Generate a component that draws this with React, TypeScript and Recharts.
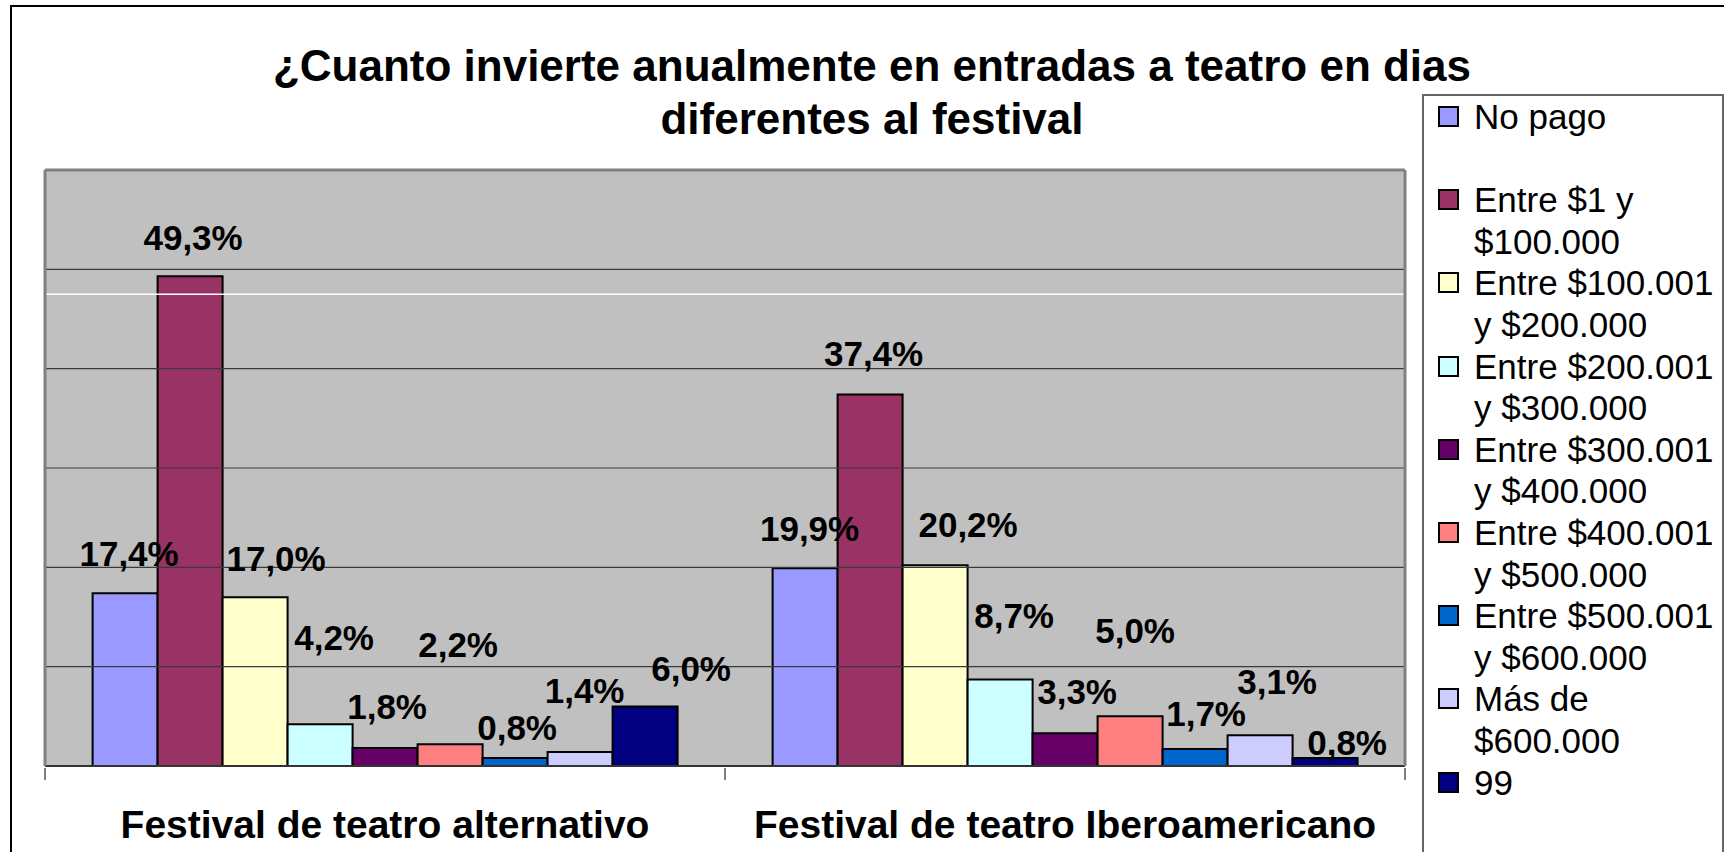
import React from "react";
import {
  BarChart,
  Bar,
  XAxis,
  YAxis,
  CartesianGrid,
  LabelList,
  ReferenceLine,
} from "recharts";

const festivals = [
  "Festival de teatro alternativo",
  "Festival de teatro Iberoamericano",
];
const seriesNames = [
  "No pago",
  "Entre $1 y $100.000",
  "Entre $100.001 y $200.000",
  "Entre $200.001 y $300.000",
  "Entre $300.001 y $400.000",
  "Entre $400.001 y $500.000",
  "Entre $500.001 y $600.000",
  "Más de $600.000",
  "99",
];
const seriesColors = [
  "#9999FF",
  "#993366",
  "#FFFFCC",
  "#CCFFFF",
  "#660066",
  "#FF8080",
  "#0066CC",
  "#CCCCFF",
  "#000080",
];
const alternativo = [17.4, 49.3, 17.0, 4.2, 1.8, 2.2, 0.8, 1.4, 6.0];
const iberoamericano = [19.9, 37.4, 20.2, 8.7, 3.3, 5.0, 1.7, 3.1, 0.8];
const gridValues = [10, 20, 30, 40, 50];
const whiteLineValue = 47.5;

// hand-placed label nudges from the source: [dx, rise above bar top] per festival
const labelNudge: [number, number][][] = [
  [[4, 40], [4.5, 40]],
  [[3, 39], [3.5, 40.5]],
  [[21, 39], [33, 41]],
  [[14, 87], [14, 64]],
  [[2, 42], [12, 42]],
  [[8, 100], [5, 86]],
  [[2, 31], [11, 36]],
  [[4.5, 62], [17, 54]],
  [[46, 38], [22, 16]],
];

const W = 1724;
const H = 852;
const margin = { top: 169, right: 318, bottom: 0, left: 44 };
const plotWidth = 1360;
const FONT = '"Liberation Sans", Arial, sans-serif';

const groups = [alternativo, iberoamericano];
const data = festivals.map((name, i) => {
  const row: Record<string, string | number> = { name };
  seriesNames.forEach((_, j) => {
    row["s" + j] = groups[i][j];
  });
  return row;
});

const pct = (v: number) => v.toFixed(1).replace(".", ",") + "%";

const makeLabel = (j: number) => (props: any) => {
  const vb = props.viewBox || props;
  const x = vb.x ?? props.x;
  const y = vb.y ?? props.y;
  const width = vb.width ?? props.width;
  const [dx, rise] = labelNudge[j][props.index] || [0, 40];
  return (
    <text
      x={x + width / 2 + dx}
      y={y - rise}
      textAnchor="middle"
      dominantBaseline="central"
      fontFamily={FONT}
      fontWeight="bold"
      fontSize={35}
      fill="#000"
    >
      {pct(Number(props.value))}
    </text>
  );
};

const FestivalTick = (props: any) => {
  const { x, y, payload, index } = props;
  const half = plotWidth / festivals.length / 2;
  return (
    <g>
      <line x1={x - half} x2={x - half} y1={y} y2={y + 12} stroke="#555" strokeWidth={1.5} />
      {index === festivals.length - 1 && (
        <line x1={x + half} x2={x + half} y1={y} y2={y + 12} stroke="#555" strokeWidth={1.5} />
      )}
      <text
        x={x}
        y={y + 70}
        textAnchor="middle"
        fontFamily={FONT}
        fontWeight="bold"
        fontSize={39}
        fill="#000"
      >
        {payload.value}
      </text>
    </g>
  );
};

const Legendbox = () => (
  <div
    style={{
      position: "absolute",
      left: 1422,
      top: 94,
      width: 298,
      height: 820,
      border: "2px solid #666",
      background: "#fff",
      fontFamily: FONT,
      fontSize: 35,
      lineHeight: "41.6px",
      color: "#000",
    }}
  >
    {seriesNames.map((s, j) => (
      <div key={s} style={{ position: "relative", height: 83.2 }}>
        <div
          style={{
            position: "absolute",
            left: 14,
            top: 10,
            width: 17,
            height: 17,
            border: "2px solid #000",
            background: seriesColors[j],
          }}
        />
        <div style={{ position: "absolute", left: 50, top: 0, width: 250 }}>{s}</div>
      </div>
    ))}
  </div>
);

export default function App() {
  return (
    <div
      style={{
        position: "absolute",
        left: 0,
        top: 0,
        width: W,
        height: H,
        overflow: "hidden",
        background: "#fff",
      }}
    >
      <div
        style={{
          position: "absolute",
          left: 10,
          top: 5,
          width: 1800,
          height: 900,
          border: "2px solid #000",
        }}
      />
      <div style={{ position: "absolute", left: 0, top: 0 }}>
        <BarChart
          width={W}
          height={H}
          data={data}
          margin={margin}
          barGap={0}
          barCategoryGap="7%"
        >
          <CartesianGrid vertical={false} horizontal={false} fill="#C0C0C0" fillOpacity={1} />
          {gridValues.map((v) => (
            <ReferenceLine key={v} y={v} stroke="#3a3a3a" strokeWidth={1.2} />
          ))}
          <ReferenceLine y={whiteLineValue} stroke="#fff" strokeWidth={1.5} />
          <XAxis
            dataKey="name"
            height={86}
            interval={0}
            tickLine={false}
            tickSize={0}
            tick={<FestivalTick />}
            axisLine={{ stroke: "#333", strokeWidth: 2 }}
          />
          <XAxis
            xAxisId="top"
            orientation="top"
            dataKey="name"
            height={1}
            tick={false}
            tickLine={false}
            axisLine={{ stroke: "#808080", strokeWidth: 3 }}
          />
          <YAxis
            domain={[0, 60]}
            width={1}
            tick={false}
            tickLine={false}
            axisLine={{ stroke: "#808080", strokeWidth: 3 }}
          />
          <YAxis
            yAxisId="r"
            orientation="right"
            domain={[0, 60]}
            width={1}
            tick={false}
            tickLine={false}
            axisLine={{ stroke: "#808080", strokeWidth: 3 }}
          />
          {seriesNames.map((s, j) => (
            <Bar
              key={s}
              dataKey={"s" + j}
              name={s}
              fill={seriesColors[j]}
              stroke="#000"
              strokeWidth={2}
              isAnimationActive={false}
            >
              <LabelList dataKey={"s" + j} content={makeLabel(j)} />
            </Bar>
          ))}
        </BarChart>
      </div>
      <div
        style={{
          position: "absolute",
          left: 20,
          top: 39,
          width: 1704,
          textAlign: "center",
          fontFamily: FONT,
          fontWeight: "bold",
          fontSize: 44,
          lineHeight: "53px",
          color: "#000",
        }}
      >
        ¿Cuanto invierte anualmente en entradas a teatro en dias
        <br />
        diferentes al festival
      </div>
      <Legendbox />
    </div>
  );
}
